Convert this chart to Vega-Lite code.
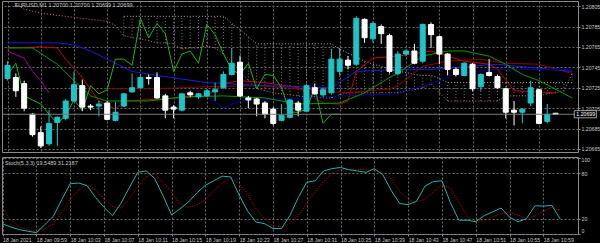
{
  "$schema": "https://vega.github.io/schema/vega-lite/v6.json",
  "background": "#000000",
  "padding": 0,
  "spacing": 3,
  "config": {
    "view": {"stroke": "#8a8a8a", "strokeWidth": 1},
    "axis": {"labelFont": "Liberation Sans", "labelFontSize": 5.2, "labelColor": "#c8c8c8", "gridColor": "#6a6a6a", "gridDash": [2, 2], "gridWidth": 1, "domain": false, "tickColor": "#8a8a8a", "tickSize": 2, "labelPadding": 1, "tickCount": 30, "labelOverlap": false},
    "text": {"font": "Liberation Sans"}
  },
  "datasets": {
    "bars": [
      {"time": "2021-01-18T09:55:00", "o": 1.20734, "h": 1.20751, "l": 1.20732, "c": 1.20747, "ch": 1.20738, "k": 13, "d": 33},
      {"time": "2021-01-18T09:56:00", "o": 1.20735, "h": 1.20739, "l": 1.20716, "c": 1.20722, "ch": 1.20749, "k": 9, "d": 18},
      {"time": "2021-01-18T09:57:00", "o": 1.20729, "h": 1.20732, "l": 1.20702, "c": 1.20705, "ch": 1.20717, "k": 5.5, "d": 9},
      {"time": "2021-01-18T09:58:00", "o": 1.20699, "h": 1.207, "l": 1.20677, "c": 1.20679, "ch": 1.20713, "k": 3.5, "d": 5},
      {"time": "2021-01-18T09:59:00", "o": 1.20681, "h": 1.20687, "l": 1.20666, "c": 1.20668, "ch": 1.20709, "k": 1.5, "d": 2.6},
      {"time": "2021-01-18T10:00:00", "o": 1.2067, "h": 1.20703, "l": 1.20668, "c": 1.2069, "ch": 1.20699, "k": 12, "d": 7},
      {"time": "2021-01-18T10:01:00", "o": 1.20691, "h": 1.20697, "l": 1.20668, "c": 1.20696, "ch": 1.2069, "k": 23, "d": 13},
      {"time": "2021-01-18T10:02:00", "o": 1.20695, "h": 1.20714, "l": 1.20693, "c": 1.20712, "ch": 1.20698, "k": 45, "d": 28},
      {"time": "2021-01-18T10:03:00", "o": 1.20712, "h": 1.20741, "l": 1.20711, "c": 1.20728, "ch": 1.20713, "k": 66, "d": 46},
      {"time": "2021-01-18T10:04:00", "o": 1.20727, "h": 1.20733, "l": 1.20702, "c": 1.20706, "ch": 1.20703, "k": 67, "d": 58},
      {"time": "2021-01-18T10:05:00", "o": 1.20707, "h": 1.20709, "l": 1.20703, "c": 1.20706, "ch": 1.20727, "k": 63.6, "d": 65},
      {"time": "2021-01-18T10:06:00", "o": 1.20707, "h": 1.20712, "l": 1.20697, "c": 1.20709, "ch": 1.20719, "k": 48, "d": 58},
      {"time": "2021-01-18T10:07:00", "o": 1.2071, "h": 1.20712, "l": 1.20693, "c": 1.20694, "ch": 1.20723, "k": 35, "d": 46},
      {"time": "2021-01-18T10:08:00", "o": 1.20693, "h": 1.20711, "l": 1.20692, "c": 1.20701, "ch": 1.20753, "k": 24, "d": 36},
      {"time": "2021-01-18T10:09:00", "o": 1.20707, "h": 1.2072, "l": 1.20706, "c": 1.20719, "ch": 1.20753, "k": 40, "d": 34},
      {"time": "2021-01-18T10:10:00", "o": 1.20721, "h": 1.20739, "l": 1.2072, "c": 1.20725, "ch": 1.20747, "k": 61, "d": 47},
      {"time": "2021-01-18T10:11:00", "o": 1.20725, "h": 1.20738, "l": 1.20724, "c": 1.20735, "ch": 1.20793, "k": 81, "d": 62},
      {"time": "2021-01-18T10:12:00", "o": 1.20735, "h": 1.20738, "l": 1.20728, "c": 1.20734, "ch": 1.20774, "k": 83, "d": 75},
      {"time": "2021-01-18T10:13:00", "o": 1.20735, "h": 1.2074, "l": 1.20714, "c": 1.20715, "ch": 1.20788, "k": 73, "d": 79},
      {"time": "2021-01-18T10:14:00", "o": 1.20717, "h": 1.20719, "l": 1.20695, "c": 1.20703, "ch": 1.20778, "k": 50, "d": 68},
      {"time": "2021-01-18T10:15:00", "o": 1.20706, "h": 1.20708, "l": 1.20695, "c": 1.20704, "ch": 1.20741, "k": 25, "d": 55},
      {"time": "2021-01-18T10:16:00", "o": 1.20703, "h": 1.2072, "l": 1.20702, "c": 1.20719, "ch": 1.20758, "k": 33, "d": 40},
      {"time": "2021-01-18T10:17:00", "o": 1.2072, "h": 1.20722, "l": 1.20716, "c": 1.20718, "ch": 1.20761, "k": 42, "d": 35},
      {"time": "2021-01-18T10:18:00", "o": 1.20716, "h": 1.2072, "l": 1.20714, "c": 1.20719, "ch": 1.20749, "k": 54, "d": 38},
      {"time": "2021-01-18T10:19:00", "o": 1.20717, "h": 1.20724, "l": 1.20716, "c": 1.20722, "ch": 1.20787, "k": 64, "d": 45},
      {"time": "2021-01-18T10:20:00", "o": 1.20721, "h": 1.2073, "l": 1.20712, "c": 1.20723, "ch": 1.20777, "k": 70, "d": 57},
      {"time": "2021-01-18T10:21:00", "o": 1.20725, "h": 1.20741, "l": 1.20724, "c": 1.20738, "ch": 1.20758, "k": 76, "d": 67},
      {"time": "2021-01-18T10:22:00", "o": 1.20738, "h": 1.20764, "l": 1.20737, "c": 1.20749, "ch": 1.20743, "k": 75, "d": 73},
      {"time": "2021-01-18T10:23:00", "o": 1.2075, "h": 1.20756, "l": 1.20716, "c": 1.20717, "ch": 1.20738, "k": 51, "d": 66},
      {"time": "2021-01-18T10:24:00", "o": 1.20715, "h": 1.20717, "l": 1.20705, "c": 1.20713, "ch": 1.20749, "k": 30, "d": 52},
      {"time": "2021-01-18T10:25:00", "o": 1.20714, "h": 1.20715, "l": 1.20697, "c": 1.20709, "ch": 1.20724, "k": 15.5, "d": 33},
      {"time": "2021-01-18T10:26:00", "o": 1.2071, "h": 1.20712, "l": 1.20695, "c": 1.20699, "ch": 1.20738, "k": 13.5, "d": 20},
      {"time": "2021-01-18T10:27:00", "o": 1.20704, "h": 1.20706, "l": 1.20688, "c": 1.2069, "ch": 1.20737, "k": 7, "d": 11},
      {"time": "2021-01-18T10:28:00", "o": 1.20693, "h": 1.20709, "l": 1.20692, "c": 1.20698, "ch": 1.20725, "k": 7, "d": 9},
      {"time": "2021-01-18T10:29:00", "o": 1.20696, "h": 1.20714, "l": 1.20695, "c": 1.20713, "ch": 1.20701, "k": 24, "d": 14},
      {"time": "2021-01-18T10:30:00", "o": 1.2071, "h": 1.20712, "l": 1.20697, "c": 1.20703, "ch": 1.20701, "k": 48, "d": 24},
      {"time": "2021-01-18T10:31:00", "o": 1.20702, "h": 1.20728, "l": 1.20701, "c": 1.20727, "ch": 1.20704, "k": 68, "d": 40},
      {"time": "2021-01-18T10:32:00", "o": 1.20725, "h": 1.20729, "l": 1.20718, "c": 1.20719, "ch": 1.20725, "k": 70, "d": 55},
      {"time": "2021-01-18T10:33:00", "o": 1.20718, "h": 1.20725, "l": 1.20716, "c": 1.20723, "ch": 1.2069, "k": 83, "d": 69},
      {"time": "2021-01-18T10:34:00", "o": 1.2072, "h": 1.20763, "l": 1.20719, "c": 1.20753, "ch": 1.20699, "k": 86, "d": 80},
      {"time": "2021-01-18T10:35:00", "o": 1.20741, "h": 1.20764, "l": 1.20737, "c": 1.20753, "ch": 1.20699, "k": 87.5, "d": 85},
      {"time": "2021-01-18T10:36:00", "o": 1.20752, "h": 1.20756, "l": 1.20743, "c": 1.20747, "k": 84.5, "d": 85},
      {"time": "2021-01-18T10:37:00", "o": 1.20748, "h": 1.20795, "l": 1.20747, "c": 1.20793, "k": 83, "d": 85},
      {"time": "2021-01-18T10:38:00", "o": 1.20792, "h": 1.20793, "l": 1.20769, "c": 1.20774, "k": 81, "d": 85},
      {"time": "2021-01-18T10:39:00", "o": 1.20773, "h": 1.2079, "l": 1.20769, "c": 1.20788, "k": 86, "d": 83},
      {"time": "2021-01-18T10:40:00", "o": 1.20785, "h": 1.20787, "l": 1.20768, "c": 1.20778, "k": 78, "d": 81},
      {"time": "2021-01-18T10:41:00", "o": 1.20776, "h": 1.20778, "l": 1.20739, "c": 1.20741, "k": 57, "d": 72},
      {"time": "2021-01-18T10:42:00", "o": 1.20739, "h": 1.20761, "l": 1.20737, "c": 1.20758, "k": 40, "d": 56},
      {"time": "2021-01-18T10:43:00", "o": 1.20758, "h": 1.20763, "l": 1.20756, "c": 1.20761, "k": 38.5, "d": 45},
      {"time": "2021-01-18T10:44:00", "o": 1.20761, "h": 1.20768, "l": 1.20748, "c": 1.20749, "k": 43, "d": 42},
      {"time": "2021-01-18T10:45:00", "o": 1.20751, "h": 1.20788, "l": 1.20749, "c": 1.20787, "k": 63, "d": 46},
      {"time": "2021-01-18T10:46:00", "o": 1.20787, "h": 1.20789, "l": 1.20764, "c": 1.20777, "k": 69, "d": 56},
      {"time": "2021-01-18T10:47:00", "o": 1.20775, "h": 1.20776, "l": 1.20748, "c": 1.20758, "k": 70, "d": 65},
      {"time": "2021-01-18T10:48:00", "o": 1.20758, "h": 1.20759, "l": 1.20737, "c": 1.20743, "k": 41, "d": 60},
      {"time": "2021-01-18T10:49:00", "o": 1.20743, "h": 1.20745, "l": 1.20736, "c": 1.20738, "k": 18, "d": 42},
      {"time": "2021-01-18T10:50:00", "o": 1.20737, "h": 1.2075, "l": 1.20736, "c": 1.20749, "k": 18, "d": 23},
      {"time": "2021-01-18T10:51:00", "o": 1.20748, "h": 1.20749, "l": 1.20722, "c": 1.20724, "k": 16, "d": 17},
      {"time": "2021-01-18T10:52:00", "o": 1.20726, "h": 1.20739, "l": 1.20722, "c": 1.20738, "k": 24, "d": 17},
      {"time": "2021-01-18T10:53:00", "o": 1.2074, "h": 1.20753, "l": 1.20736, "c": 1.20737, "k": 29, "d": 22},
      {"time": "2021-01-18T10:54:00", "o": 1.20736, "h": 1.20738, "l": 1.20724, "c": 1.20725, "k": 34, "d": 27},
      {"time": "2021-01-18T10:55:00", "o": 1.20724, "h": 1.20725, "l": 1.20695, "c": 1.20701, "k": 22, "d": 28},
      {"time": "2021-01-18T10:56:00", "o": 1.20703, "h": 1.20712, "l": 1.20688, "c": 1.20701, "k": 16, "d": 25},
      {"time": "2021-01-18T10:57:00", "o": 1.20701, "h": 1.20705, "l": 1.2069, "c": 1.20704, "k": 20, "d": 20},
      {"time": "2021-01-18T10:58:00", "o": 1.2071, "h": 1.20732, "l": 1.20707, "c": 1.20725, "k": 37, "d": 24},
      {"time": "2021-01-18T10:59:00", "o": 1.20723, "h": 1.20724, "l": 1.20689, "c": 1.2069, "k": 36.6, "d": 30},
      {"time": "2021-01-18T11:00:00", "o": 1.20692, "h": 1.20709, "l": 1.2069, "c": 1.20699, "k": 37.5, "d": 35},
      {"time": "2021-01-18T11:01:00", "o": 1.207, "h": 1.207, "l": 1.20699, "c": 1.20699, "k": 19.5489, "d": 31.2187}
    ],
    "cloud": [
      {"time": "2021-01-18T09:56:00", "a": 1.20807},
      {"time": "2021-01-18T09:57:00", "a": 1.20802},
      {"time": "2021-01-18T09:58:00", "a": 1.208},
      {"time": "2021-01-18T09:59:00", "a": 1.20798},
      {"time": "2021-01-18T10:00:00", "a": 1.20797},
      {"time": "2021-01-18T10:01:00", "a": 1.20796},
      {"time": "2021-01-18T10:02:00", "a": 1.20795},
      {"time": "2021-01-18T10:03:00", "a": 1.20794},
      {"time": "2021-01-18T10:04:00", "a": 1.20793},
      {"time": "2021-01-18T10:05:00", "a": 1.20792},
      {"time": "2021-01-18T10:06:00", "a": 1.20791},
      {"time": "2021-01-18T10:07:00", "a": 1.2079},
      {"time": "2021-01-18T10:08:00", "a": 1.20786},
      {"time": "2021-01-18T10:09:00", "a": 1.20776, "b": 1.20795},
      {"time": "2021-01-18T10:10:00", "a": 1.20774, "b": 1.20795},
      {"time": "2021-01-18T10:11:00", "a": 1.20773, "b": 1.20795},
      {"time": "2021-01-18T10:12:00", "a": 1.20771, "b": 1.20795},
      {"time": "2021-01-18T10:13:00", "a": 1.20769, "b": 1.20795},
      {"time": "2021-01-18T10:14:00", "a": 1.20769, "b": 1.20795},
      {"time": "2021-01-18T10:15:00", "a": 1.20768, "b": 1.20795},
      {"time": "2021-01-18T10:16:00", "a": 1.20763, "b": 1.20795},
      {"time": "2021-01-18T10:17:00", "a": 1.20764, "b": 1.20795},
      {"time": "2021-01-18T10:18:00", "a": 1.20764, "b": 1.20795},
      {"time": "2021-01-18T10:19:00", "a": 1.20766, "b": 1.20795},
      {"time": "2021-01-18T10:20:00", "a": 1.20764, "b": 1.20795},
      {"time": "2021-01-18T10:21:00", "a": 1.20758, "b": 1.20795},
      {"time": "2021-01-18T10:22:00", "a": 1.20751, "b": 1.20788},
      {"time": "2021-01-18T10:23:00", "a": 1.20741, "b": 1.20782},
      {"time": "2021-01-18T10:24:00", "a": 1.20732, "b": 1.20775},
      {"time": "2021-01-18T10:25:00", "a": 1.20724, "b": 1.20768},
      {"time": "2021-01-18T10:26:00", "a": 1.20722, "b": 1.20768},
      {"time": "2021-01-18T10:27:00", "a": 1.2072, "b": 1.20768},
      {"time": "2021-01-18T10:28:00", "a": 1.20719, "b": 1.20768},
      {"time": "2021-01-18T10:29:00", "a": 1.20718, "b": 1.20768},
      {"time": "2021-01-18T10:30:00", "a": 1.20717, "b": 1.20768},
      {"time": "2021-01-18T10:31:00", "a": 1.20716, "b": 1.20768},
      {"time": "2021-01-18T10:32:00", "a": 1.20716, "b": 1.20768},
      {"time": "2021-01-18T10:33:00", "a": 1.20715, "b": 1.20768},
      {"time": "2021-01-18T10:34:00", "a": 1.20715, "b": 1.20768},
      {"time": "2021-01-18T10:35:00", "a": 1.20718, "b": 1.20763},
      {"time": "2021-01-18T10:36:00", "a": 1.2072, "b": 1.20759},
      {"time": "2021-01-18T10:37:00", "a": 1.2072, "b": 1.20755},
      {"time": "2021-01-18T10:38:00", "a": 1.2072, "b": 1.20751},
      {"time": "2021-01-18T10:39:00", "a": 1.2072, "b": 1.20748},
      {"time": "2021-01-18T10:40:00", "a": 1.2072, "b": 1.20746},
      {"time": "2021-01-18T10:41:00", "a": 1.2072, "b": 1.20743},
      {"time": "2021-01-18T10:42:00", "a": 1.2072, "b": 1.20741},
      {"time": "2021-01-18T10:43:00", "a": 1.20722, "b": 1.2074},
      {"time": "2021-01-18T10:44:00", "a": 1.20723, "b": 1.20738},
      {"time": "2021-01-18T10:45:00", "a": 1.20725, "b": 1.20737},
      {"time": "2021-01-18T10:46:00", "a": 1.20729, "b": 1.20737},
      {"time": "2021-01-18T10:47:00", "a": 1.2072, "b": 1.20734},
      {"time": "2021-01-18T10:48:00", "a": 1.20712, "b": 1.2073},
      {"time": "2021-01-18T10:49:00", "a": 1.20712, "b": 1.2073},
      {"time": "2021-01-18T10:50:00", "a": 1.20712, "b": 1.2073},
      {"time": "2021-01-18T10:51:00", "a": 1.20712, "b": 1.2073},
      {"time": "2021-01-18T10:52:00", "a": 1.20712, "b": 1.2073},
      {"time": "2021-01-18T10:53:00", "a": 1.20712, "b": 1.2073},
      {"time": "2021-01-18T10:54:00", "a": 1.20712, "b": 1.2073},
      {"time": "2021-01-18T10:55:00", "a": 1.20717, "b": 1.2073},
      {"time": "2021-01-18T10:56:00", "a": 1.20717, "b": 1.2073},
      {"time": "2021-01-18T10:57:00", "a": 1.20717, "b": 1.2073},
      {"time": "2021-01-18T10:58:00", "a": 1.20717, "b": 1.2073},
      {"time": "2021-01-18T10:59:00", "a": 1.20717, "b": 1.2073},
      {"time": "2021-01-18T11:00:00", "a": 1.20719, "b": 1.2073},
      {"time": "2021-01-18T11:01:00", "a": 1.2072, "b": 1.2073},
      {"time": "2021-01-18T11:02:00", "a": 1.20722, "b": 1.2073},
      {"time": "2021-01-18T11:03:00", "a": 1.20739, "b": 1.2073}
    ],
    "lines": [
      {"s": "tenkan", "time": "2021-01-18T09:55:00", "p": 1.20764},
      {"s": "tenkan", "time": "2021-01-18T09:59:00", "p": 1.20765},
      {"s": "tenkan", "time": "2021-01-18T10:01:00", "p": 1.20764},
      {"s": "tenkan", "time": "2021-01-18T10:02:00", "p": 1.20753},
      {"s": "tenkan", "time": "2021-01-18T10:04:00", "p": 1.20735},
      {"s": "tenkan", "time": "2021-01-18T10:06:00", "p": 1.20712},
      {"s": "tenkan", "time": "2021-01-18T10:08:00", "p": 1.20704},
      {"s": "tenkan", "time": "2021-01-18T10:09:00", "p": 1.20712},
      {"s": "tenkan", "time": "2021-01-18T10:14:00", "p": 1.20714},
      {"s": "tenkan", "time": "2021-01-18T10:19:00", "p": 1.20717},
      {"s": "tenkan", "time": "2021-01-18T10:21:00", "p": 1.20729},
      {"s": "tenkan", "time": "2021-01-18T10:23:00", "p": 1.20732},
      {"s": "tenkan", "time": "2021-01-18T10:26:00", "p": 1.2073},
      {"s": "tenkan", "time": "2021-01-18T10:30:00", "p": 1.20725},
      {"s": "tenkan", "time": "2021-01-18T10:33:00", "p": 1.2071},
      {"s": "tenkan", "time": "2021-01-18T10:35:00", "p": 1.20709},
      {"s": "tenkan", "time": "2021-01-18T10:36:00", "p": 1.20712},
      {"s": "tenkan", "time": "2021-01-18T10:37:00", "p": 1.20741},
      {"s": "tenkan", "time": "2021-01-18T10:39:00", "p": 1.20754},
      {"s": "tenkan", "time": "2021-01-18T10:42:00", "p": 1.20756},
      {"s": "tenkan", "time": "2021-01-18T10:46:00", "p": 1.20761},
      {"s": "tenkan", "time": "2021-01-18T10:50:00", "p": 1.20751},
      {"s": "tenkan", "time": "2021-01-18T10:53:00", "p": 1.20748},
      {"s": "tenkan", "time": "2021-01-18T10:54:00", "p": 1.20743},
      {"s": "tenkan", "time": "2021-01-18T10:56:00", "p": 1.20722},
      {"s": "tenkan", "time": "2021-01-18T11:01:00", "p": 1.2072},
      {"s": "maroon", "time": "2021-01-18T10:07:00", "p": 1.20724},
      {"s": "maroon", "time": "2021-01-18T10:13:00", "p": 1.20724},
      {"s": "maroon", "time": "2021-01-18T10:19:00", "p": 1.20726},
      {"s": "maroon", "time": "2021-01-18T10:25:00", "p": 1.20727},
      {"s": "maroon", "time": "2021-01-18T10:30:00", "p": 1.20724},
      {"s": "maroon", "time": "2021-01-18T10:36:00", "p": 1.2072},
      {"s": "maroon", "time": "2021-01-18T10:41:00", "p": 1.20724},
      {"s": "maroon", "time": "2021-01-18T10:42:00", "p": 1.20727},
      {"s": "maroon", "time": "2021-01-18T10:45:00", "p": 1.20746},
      {"s": "maroon", "time": "2021-01-18T10:48:00", "p": 1.20751},
      {"s": "maroon", "time": "2021-01-18T10:52:00", "p": 1.20753},
      {"s": "maroon", "time": "2021-01-18T10:55:00", "p": 1.20749},
      {"s": "maroon", "time": "2021-01-18T10:59:00", "p": 1.20748},
      {"s": "maroon", "time": "2021-01-18T11:03:00", "p": 1.20739},
      {"s": "kijun", "time": "2021-01-18T09:55:00", "p": 1.20769},
      {"s": "kijun", "time": "2021-01-18T10:01:00", "p": 1.20769},
      {"s": "kijun", "time": "2021-01-18T10:03:00", "p": 1.20767},
      {"s": "kijun", "time": "2021-01-18T10:05:00", "p": 1.20761},
      {"s": "kijun", "time": "2021-01-18T10:07:00", "p": 1.20753},
      {"s": "kijun", "time": "2021-01-18T10:10:00", "p": 1.20741},
      {"s": "kijun", "time": "2021-01-18T10:13:00", "p": 1.20737},
      {"s": "kijun", "time": "2021-01-18T10:19:00", "p": 1.2073},
      {"s": "kijun", "time": "2021-01-18T10:26:00", "p": 1.20727},
      {"s": "kijun", "time": "2021-01-18T10:34:00", "p": 1.20725},
      {"s": "kijun", "time": "2021-01-18T10:37:00", "p": 1.20741},
      {"s": "kijun", "time": "2021-01-18T10:42:00", "p": 1.20743},
      {"s": "kijun", "time": "2021-01-18T10:46:00", "p": 1.20743},
      {"s": "kijun", "time": "2021-01-18T10:54:00", "p": 1.20748},
      {"s": "kijun", "time": "2021-01-18T10:59:00", "p": 1.20744},
      {"s": "kijun", "time": "2021-01-18T11:03:00", "p": 1.20741},
      {"s": "navy", "time": "2021-01-18T10:19:00", "p": 1.20717},
      {"s": "navy", "time": "2021-01-18T10:21:00", "p": 1.20705},
      {"s": "navy", "time": "2021-01-18T10:23:00", "p": 1.20712},
      {"s": "navy", "time": "2021-01-18T10:28:00", "p": 1.20714},
      {"s": "navy", "time": "2021-01-18T10:33:00", "p": 1.20716},
      {"s": "navy", "time": "2021-01-18T10:38:00", "p": 1.20718},
      {"s": "navy", "time": "2021-01-18T10:42:00", "p": 1.20719},
      {"s": "navy", "time": "2021-01-18T10:46:00", "p": 1.20729},
      {"s": "navy", "time": "2021-01-18T10:48:00", "p": 1.20735},
      {"s": "navy", "time": "2021-01-18T10:49:00", "p": 1.20739},
      {"s": "navy", "time": "2021-01-18T10:54:00", "p": 1.20743},
      {"s": "navy", "time": "2021-01-18T11:03:00", "p": 1.20743},
      {"s": "green", "time": "2021-01-18T09:55:00", "p": 1.20764},
      {"s": "green", "time": "2021-01-18T09:58:00", "p": 1.20764},
      {"s": "green", "time": "2021-01-18T10:01:00", "p": 1.20748},
      {"s": "green", "time": "2021-01-18T10:03:00", "p": 1.20732},
      {"s": "green", "time": "2021-01-18T10:05:00", "p": 1.20717},
      {"s": "green", "time": "2021-01-18T10:07:00", "p": 1.20712},
      {"s": "green", "time": "2021-01-18T10:12:00", "p": 1.20712},
      {"s": "green", "time": "2021-01-18T10:16:00", "p": 1.20716},
      {"s": "green", "time": "2021-01-18T10:21:00", "p": 1.20717},
      {"s": "green", "time": "2021-01-18T10:26:00", "p": 1.20715},
      {"s": "green", "time": "2021-01-18T10:30:00", "p": 1.20709},
      {"s": "green", "time": "2021-01-18T10:35:00", "p": 1.2071},
      {"s": "green", "time": "2021-01-18T10:38:00", "p": 1.2072},
      {"s": "green", "time": "2021-01-18T10:41:00", "p": 1.20735},
      {"s": "green", "time": "2021-01-18T10:42:00", "p": 1.20739},
      {"s": "green", "time": "2021-01-18T10:45:00", "p": 1.20756},
      {"s": "green", "time": "2021-01-18T10:48:00", "p": 1.20761},
      {"s": "green", "time": "2021-01-18T10:50:00", "p": 1.20761},
      {"s": "green", "time": "2021-01-18T10:53:00", "p": 1.20756},
      {"s": "green", "time": "2021-01-18T10:55:00", "p": 1.20748},
      {"s": "green", "time": "2021-01-18T10:57:00", "p": 1.20738},
      {"s": "green", "time": "2021-01-18T10:59:00", "p": 1.20732},
      {"s": "green", "time": "2021-01-18T11:03:00", "p": 1.20715},
      {"s": "purple", "time": "2021-01-18T09:55:00", "p": 1.20761},
      {"s": "purple", "time": "2021-01-18T09:57:00", "p": 1.20754},
      {"s": "purple", "time": "2021-01-18T09:58:00", "p": 1.20741},
      {"s": "purple", "time": "2021-01-18T09:59:00", "p": 1.20732},
      {"s": "purple", "time": "2021-01-18T10:00:00", "p": 1.2072}
    ]
  },
  "vconcat": [
    {
      "width": 576,
      "height": 151,
      "layer": [
        {
          "data": {"name": "cloud"},
          "transform": [{"filter": "isValid(datum.b)"}],
          "mark": {"type": "rule", "strokeDash": [1, 2], "color": "#9a9a9a", "opacity": 0.8},
          "encoding": {
            "x": {"field": "time", "type": "temporal", "title": null,
              "scale": {"domain": [{"year": 2021, "month": 1, "date": 18, "hours": 9, "minutes": 54, "seconds": 56}, {"year": 2021, "month": 1, "date": 18, "hours": 11, "minutes": 3, "seconds": 6}]},
              "axis": {"labels": false, "ticks": false, "grid": true, "title": null, "tickCount": 30,
                "values": [{"year": 2021, "month": 1, "date": 18, "hours": 9, "minutes": 55}, {"year": 2021, "month": 1, "date": 18, "hours": 9, "minutes": 59}, {"year": 2021, "month": 1, "date": 18, "hours": 10, "minutes": 3}, {"year": 2021, "month": 1, "date": 18, "hours": 10, "minutes": 7}, {"year": 2021, "month": 1, "date": 18, "hours": 10, "minutes": 11}, {"year": 2021, "month": 1, "date": 18, "hours": 10, "minutes": 15}, {"year": 2021, "month": 1, "date": 18, "hours": 10, "minutes": 19}, {"year": 2021, "month": 1, "date": 18, "hours": 10, "minutes": 23}, {"year": 2021, "month": 1, "date": 18, "hours": 10, "minutes": 27}, {"year": 2021, "month": 1, "date": 18, "hours": 10, "minutes": 31}, {"year": 2021, "month": 1, "date": 18, "hours": 10, "minutes": 35}, {"year": 2021, "month": 1, "date": 18, "hours": 10, "minutes": 39}, {"year": 2021, "month": 1, "date": 18, "hours": 10, "minutes": 43}, {"year": 2021, "month": 1, "date": 18, "hours": 10, "minutes": 47}, {"year": 2021, "month": 1, "date": 18, "hours": 10, "minutes": 51}, {"year": 2021, "month": 1, "date": 18, "hours": 10, "minutes": 55}, {"year": 2021, "month": 1, "date": 18, "hours": 10, "minutes": 59}]}},
            "y": {"field": "a", "type": "quantitative", "title": null,
              "scale": {"domain": [1.20662, 1.2081], "zero": false, "nice": false},
              "axis": {"orient": "right", "title": null, "format": ".5f", "grid": true, "tickCount": 30, "labelOverlap": false, "values": [1.20665, 1.20685, 1.20705, 1.20725, 1.20745, 1.20765, 1.20785, 1.20805]}},
            "y2": {"field": "b"}
          }
        },
        {
          "data": {"name": "cloud"},
          "mark": {"type": "line", "color": "#b0b0b0", "strokeWidth": 1, "strokeDash": [1, 2]},
          "encoding": {"x": {"field": "time", "type": "temporal", "title": null}, "y": {"field": "b", "type": "quantitative", "title": null}}
        },
        {
          "data": {"name": "cloud"},
          "mark": {"type": "line", "color": "#c8824a", "strokeWidth": 1, "strokeDash": [1, 2]},
          "encoding": {"x": {"field": "time", "type": "temporal", "title": null}, "y": {"field": "a", "type": "quantitative", "title": null}}
        },
        {
          "data": {"name": "lines"},
          "mark": {"type": "line", "strokeWidth": 1},
          "encoding": {
            "x": {"field": "time", "type": "temporal", "title": null},
            "y": {"field": "p", "type": "quantitative", "title": null},
            "color": {"field": "s", "type": "nominal", "legend": null,
              "scale": {"domain": ["tenkan", "maroon", "kijun", "navy", "green", "purple"], "range": ["#c80000", "#8b0000", "#1c1cd8", "#00009a", "#009a00", "#a000a0"]}}
          }
        },
        {
          "data": {"name": "bars"},
          "transform": [{"filter": "isValid(datum.ch)"}],
          "mark": {"type": "line", "color": "#18b418", "strokeWidth": 1},
          "encoding": {"x": {"field": "time", "type": "temporal", "title": null}, "y": {"field": "ch", "type": "quantitative", "title": null}}
        },
        {
          "data": {"name": "bars"},
          "mark": {"type": "rule", "strokeWidth": 1},
          "encoding": {
            "x": {"field": "time", "type": "temporal", "title": null},
            "y": {"field": "l", "type": "quantitative", "title": null},
            "y2": {"field": "h"},
            "color": {"condition": {"test": "datum.c > datum.o", "value": "#1ec4c8"}, "value": "#ffffff"}
          }
        },
        {
          "data": {"name": "bars"},
          "mark": {"type": "bar", "width": 5, "strokeWidth": 1},
          "encoding": {
            "x": {"field": "time", "type": "temporal", "title": null},
            "y": {"field": "o", "type": "quantitative", "title": null},
            "y2": {"field": "c"},
            "color": {"condition": {"test": "datum.c > datum.o", "value": "#1ec4c8"}, "value": "#ffffff"},
            "stroke": {"condition": {"test": "datum.c > datum.o", "value": "#1ec4c8"}, "value": "#ffffff"}
          }
        },
        {
          "data": {"values": [{"p": 1.20699}]},
          "mark": {"type": "rule", "color": "#7a7a7a", "strokeWidth": 1},
          "encoding": {"y": {"field": "p", "type": "quantitative", "title": null}}
        },
        {
          "data": {"values": [{"label": "1.20699"}]},
          "mark": {"type": "rect", "fill": "#000000", "stroke": "#c8c8c8", "strokeWidth": 0.8},
          "encoding": {
            "x": {"datum": {"year": 2021, "month": 1, "date": 18, "hours": 11, "minutes": 3, "seconds": 15}, "type": "temporal"},
            "x2": {"datum": {"year": 2021, "month": 1, "date": 18, "hours": 11, "minutes": 5, "seconds": 55}},
            "y": {"datum": 1.207025, "type": "quantitative"},
            "y2": {"datum": 1.206955}
          }
        },
        {
          "data": {"values": [{"label": "1.20699"}]},
          "mark": {"type": "text", "align": "left", "baseline": "middle", "fontSize": 5.2, "color": "#ffffff"},
          "encoding": {
            "x": {"datum": {"year": 2021, "month": 1, "date": 18, "hours": 11, "minutes": 3, "seconds": 30}, "type": "temporal"},
            "y": {"datum": 1.20699, "type": "quantitative"},
            "text": {"field": "label"}
          }
        },
        {
          "data": {"values": [{"label": "EURUSD,M1  1.20700 1.20700 1.20699 1.20699"}]},
          "mark": {"type": "text", "align": "left", "baseline": "middle", "fontSize": 5.5, "color": "#c8c8c8"},
          "encoding": {
            "x": {"datum": {"year": 2021, "month": 1, "date": 18, "hours": 9, "minutes": 55, "seconds": 50}, "type": "temporal"},
            "y": {"datum": 1.20806, "type": "quantitative"},
            "text": {"field": "label"}
          }
        }
      ]
    },
    {
      "width": 576,
      "height": 77,
      "layer": [
        {
          "data": {"name": "bars"},
          "mark": {"type": "line", "color": "#d00000", "strokeWidth": 1, "strokeDash": [1, 1.5]},
          "encoding": {
            "x": {"field": "time", "type": "temporal", "title": null,
              "scale": {"domain": [{"year": 2021, "month": 1, "date": 18, "hours": 9, "minutes": 54, "seconds": 56}, {"year": 2021, "month": 1, "date": 18, "hours": 11, "minutes": 3, "seconds": 6}]},
              "axis": {"grid": true, "ticks": true, "tickSize": 2, "title": null, "tickCount": 30, "labelAlign": "left", "labelBaseline": "top", "labelPadding": 1, "labelOverlap": false, "labelFlush": false,
                "labelExpr": "timeFormat(datum.value, '%H:%M') == '09:55' ? '18 Jan 2021' : timeFormat(datum.value, '%d %b %H:%M')",
                "values": [{"year": 2021, "month": 1, "date": 18, "hours": 9, "minutes": 55}, {"year": 2021, "month": 1, "date": 18, "hours": 9, "minutes": 59}, {"year": 2021, "month": 1, "date": 18, "hours": 10, "minutes": 3}, {"year": 2021, "month": 1, "date": 18, "hours": 10, "minutes": 7}, {"year": 2021, "month": 1, "date": 18, "hours": 10, "minutes": 11}, {"year": 2021, "month": 1, "date": 18, "hours": 10, "minutes": 15}, {"year": 2021, "month": 1, "date": 18, "hours": 10, "minutes": 19}, {"year": 2021, "month": 1, "date": 18, "hours": 10, "minutes": 23}, {"year": 2021, "month": 1, "date": 18, "hours": 10, "minutes": 27}, {"year": 2021, "month": 1, "date": 18, "hours": 10, "minutes": 31}, {"year": 2021, "month": 1, "date": 18, "hours": 10, "minutes": 35}, {"year": 2021, "month": 1, "date": 18, "hours": 10, "minutes": 39}, {"year": 2021, "month": 1, "date": 18, "hours": 10, "minutes": 43}, {"year": 2021, "month": 1, "date": 18, "hours": 10, "minutes": 47}, {"year": 2021, "month": 1, "date": 18, "hours": 10, "minutes": 51}, {"year": 2021, "month": 1, "date": 18, "hours": 10, "minutes": 55}, {"year": 2021, "month": 1, "date": 18, "hours": 10, "minutes": 59}]}},
            "y": {"field": "d", "type": "quantitative", "title": null,
              "scale": {"domain": [-0.2, 101.3], "nice": false, "zero": false},
              "axis": {"orient": "right", "title": null, "values": [0, 20, 80, 100], "grid": true, "tickCount": 30,
                "labelBaseline": {"condition": {"test": "datum.value >= 100", "value": "top"}, "value": "middle"},
                "labelOffset": {"condition": {"test": "datum.value <= 0", "value": -3}, "value": 0}}}
          }
        },
        {
          "data": {"name": "bars"},
          "mark": {"type": "line", "color": "#20b2aa", "strokeWidth": 1},
          "encoding": {"x": {"field": "time", "type": "temporal", "title": null}, "y": {"field": "k", "type": "quantitative", "title": null}}
        },
        {
          "data": {"values": [{"label": "Stoch(5,3,3) 19.5489 31.2187"}]},
          "mark": {"type": "text", "align": "left", "baseline": "middle", "fontSize": 5.5, "color": "#c8c8c8"},
          "encoding": {
            "x": {"datum": {"year": 2021, "month": 1, "date": 18, "hours": 9, "minutes": 55, "seconds": 17}, "type": "temporal"},
            "y": {"datum": 93.5, "type": "quantitative"},
            "text": {"field": "label"}
          }
        }
      ]
    }
  ]
}
